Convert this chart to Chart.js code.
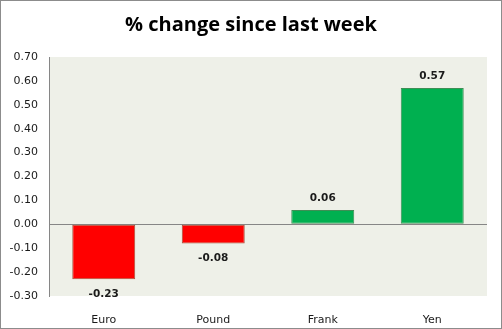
<!DOCTYPE html>
<html>
<head>
<meta charset="utf-8">
<script src="https://cdn.jsdelivr.net/npm/chart.js@4"></script>
<style>
  html, body { margin: 0; padding: 0; background: #fff; }
  #wrap { width: 502px; height: 329px; position: relative; }
</style>
</head>
<body>
<div id="wrap"><canvas id="canvas" width="502" height="329"></canvas></div>
<script>
// values
const categories = ["Euro", "Pound", "Frank", "Yen"];
const changes = [-0.23, -0.08, 0.06, 0.57];
const chartTitle = "% change since last week";
const yMin = -0.3;
const yMax = 0.7;
const yStep = 0.1;

const colors = {
    red: "#ff0000",
    redBorder: "#a8503a",
    green: "#00b050",
    greenBorder: "#3f8e55",
    plotBg: "#eef0e8",
    axis: "#868686",
    text: "#1a1a1a",
    frame: "#8c8c8c"
};

// background, frame and title
const decorPlugin = {
    id: "decor",
    beforeDraw(chart) {
        const { ctx, chartArea } = chart;
        ctx.save();
        ctx.fillStyle = "#fff";
        ctx.fillRect(0, 0, chart.width, chart.height);
        ctx.fillStyle = colors.plotBg;
        ctx.fillRect(chartArea.left, chartArea.top, chartArea.right - chartArea.left, chartArea.bottom - chartArea.top);
        ctx.restore();
    },
    afterDraw(chart) {
        const ctx = chart.ctx;
        ctx.save();
        ctx.strokeStyle = colors.frame;
        ctx.lineWidth = 1;
        ctx.strokeRect(0.5, 0.5, chart.width - 1, chart.height - 1);
        ctx.fillStyle = "#000";
        ctx.font = "bold 20px 'Open Sans'";
        ctx.textAlign = "center";
        ctx.textBaseline = "middle";
        ctx.fillText(chartTitle, chart.width / 2, 25);
        ctx.restore();
    }
};

// value labels above / below each bar
const labelPlugin = {
    id: "valueLabels",
    afterDatasetsDraw(chart) {
        const ctx = chart.ctx;
        const meta = chart.getDatasetMeta(0);
        ctx.save();
        ctx.font = "bold 10.5px 'DejaVu Sans'";
        ctx.fillStyle = colors.text;
        ctx.textAlign = "center";
        ctx.textBaseline = "middle";
        meta.data.forEach((bar, i) => {
            const v = changes[i];
            const y = v >= 0 ? bar.y - 12 : bar.y + 15;
            ctx.fillText(v.toFixed(2), bar.x, y);
        });
        ctx.restore();
    }
};

const ctx = document.getElementById("canvas").getContext("2d");

new Chart(ctx, {
    type: "bar",
    data: {
        labels: categories,
        datasets: [{
            data: changes,
            backgroundColor: changes.map(v => v < 0 ? colors.red : colors.green),
            borderColor: changes.map(v => v < 0 ? colors.redBorder : colors.greenBorder),
            borderWidth: 1,
            borderSkipped: false,
            categoryPercentage: 1,
            barPercentage: 0.575
        }]
    },
    options: {
        responsive: false,
        animation: false,
        layout: {
            padding: { top: 57, right: 15, bottom: 0, left: 0 }
        },
        plugins: {
            legend: { display: false },
            tooltip: { enabled: false },
            title: { display: false }
        },
        scales: {
            x: {
                grid: { display: false },
                border: { display: false },
                ticks: {
                    color: colors.text,
                    font: { family: "DejaVu Sans", size: 11 },
                    padding: 10,
                    maxRotation: 0
                },
                afterFit: scale => { scale.height = 33; }
            },
            y: {
                min: yMin,
                max: yMax,
                grid: {
                    drawTicks: false,
                    color: c => Math.abs(c.tick.value) < 1e-9 ? colors.axis : "rgba(0,0,0,0)"
                },
                border: { display: true, color: colors.axis },
                ticks: {
                    stepSize: yStep,
                    color: colors.text,
                    font: { family: "DejaVu Sans", size: 11 },
                    padding: 11,
                    callback: v => v.toFixed(2)
                },
                afterFit: scale => { scale.width = 49; }
            }
        }
    },
    plugins: [decorPlugin, labelPlugin]
});
</script>
</body>
</html>
